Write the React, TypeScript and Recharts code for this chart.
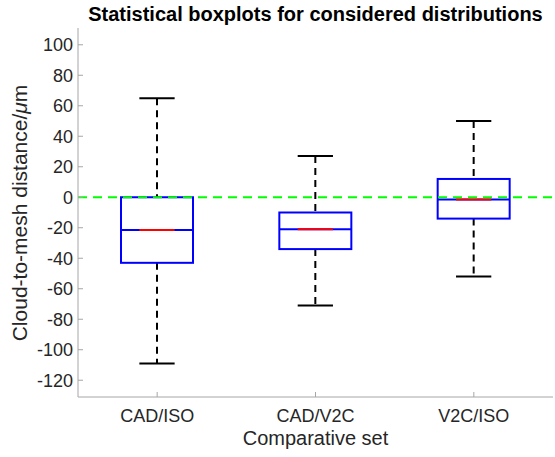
import React from "react";
import {
  ComposedChart,
  Bar,
  XAxis,
  YAxis,
  ReferenceLine,
} from "recharts";

const categories = ["CAD/ISO", "CAD/V2C", "V2C/ISO"];
const whiskerLow = [-109, -71, -52];
const q1 = [-43, -34, -14];
const median = [-21.5, -21, -1.5];
const q3 = [0, -10, 12];
const whiskerHigh = [65, 27, 50];
const yTicks = [-120, -100, -80, -60, -40, -20, 0, 20, 40, 60, 80, 100];

const data = categories.map((name, i) => ({
  name,
  range: [whiskerLow[i], whiskerHigh[i]],
  low: whiskerLow[i],
  q1: q1[i],
  median: median[i],
  q3: q3[i],
  high: whiskerHigh[i],
}));

const W = 555;
const H = 457;
const PLOT_LEFT = 78;
const PLOT_TOP = 28;
const PLOT_RIGHT = 553;
const PLOT_BOTTOM = 397;
const FONT = "'Liberation Sans', Arial, sans-serif";
const TEXT = "#262626";
const FRAME = "#a6a6a6";

const BoxShape = (props: any) => {
  const { x, y, width, height, payload } = props;
  const top = Math.min(y, y + height);
  const h = Math.abs(height);
  const k = h / (payload.high - payload.low);
  const toY = (v: number) => top + (payload.high - v) * k;
  const cx = x + width / 2;
  const cap = width * 0.49;
  const yQ3 = toY(payload.q3);
  const yQ1 = toY(payload.q1);
  const yMed = toY(payload.median);
  return (
    <g>
      <line x1={cx} x2={cx} y1={toY(payload.high)} y2={yQ3} stroke="#000" strokeWidth={2} strokeDasharray="7 5" />
      <line x1={cx} x2={cx} y1={yQ1} y2={toY(payload.low)} stroke="#000" strokeWidth={2} strokeDasharray="7 5" />
      <line x1={cx - cap / 2} x2={cx + cap / 2} y1={toY(payload.high)} y2={toY(payload.high)} stroke="#000" strokeWidth={2} />
      <line x1={cx - cap / 2} x2={cx + cap / 2} y1={toY(payload.low)} y2={toY(payload.low)} stroke="#000" strokeWidth={2} />
      <rect x={x} y={yQ3} width={width} height={yQ1 - yQ3} fill="none" stroke="#0000ff" strokeWidth={2} />
      <line x1={x} x2={x + width} y1={yMed} y2={yMed} stroke="#0000ff" strokeWidth={2} />
      <line x1={cx - cap / 2} x2={cx + cap / 2} y1={yMed} y2={yMed} stroke="#ff0000" strokeWidth={2} />
    </g>
  );
};

const LeftTick = (props: any) => {
  const { y, payload } = props;
  return (
    <g>
      <line x1={PLOT_LEFT} x2={PLOT_LEFT + 5} y1={y} y2={y} stroke={FRAME} />
      <text x={PLOT_LEFT - 5} y={y} dy="0.36em" textAnchor="end" fontSize={18} fill={TEXT} fontFamily={FONT}>
        {payload.value}
      </text>
    </g>
  );
};

const RightTick = (props: any) => {
  const { y } = props;
  return <line x1={PLOT_RIGHT} x2={PLOT_RIGHT - 5} y1={y} y2={y} stroke={FRAME} />;
};

const BottomTick = (props: any) => {
  const { x, payload } = props;
  return (
    <g>
      <line x1={x} x2={x} y1={PLOT_BOTTOM} y2={PLOT_BOTTOM - 5} stroke={FRAME} />
      <text x={x} y={PLOT_BOTTOM + 25} textAnchor="middle" fontSize={18} fill={TEXT} fontFamily={FONT}>
        {payload.value}
      </text>
    </g>
  );
};

const TopTick = (props: any) => {
  const { x } = props;
  return <line x1={x} x2={x} y1={PLOT_TOP} y2={PLOT_TOP + 5} stroke={FRAME} />;
};

export default function App() {
  return (
    <div style={{ position: "absolute", left: 0, top: 0, width: W, height: H, background: "#fff" }}>
      <ComposedChart
        width={W}
        height={H}
        data={data}
        margin={{ top: PLOT_TOP, right: W - PLOT_RIGHT, bottom: 0, left: 0 }}
      >
        <XAxis
          dataKey="name"
          height={H - PLOT_BOTTOM}
          interval={0}
          tickLine={false}
          axisLine={{ stroke: FRAME }}
          tick={<BottomTick />}
        />
        <XAxis
          xAxisId="top"
          dataKey="name"
          orientation="top"
          height={0}
          interval={0}
          tickLine={false}
          axisLine={{ stroke: FRAME }}
          tick={<TopTick />}
        />
        <YAxis
          type="number"
          domain={[-131, 111]}
          ticks={yTicks}
          allowDataOverflow
          width={PLOT_LEFT}
          tickLine={false}
          axisLine={{ stroke: FRAME }}
          tick={<LeftTick />}
        />
        <YAxis
          yAxisId="right"
          orientation="right"
          type="number"
          domain={[-131, 111]}
          ticks={yTicks}
          allowDataOverflow
          width={0}
          tickLine={false}
          axisLine={{ stroke: FRAME }}
          tick={<RightTick />}
        />
        <Bar dataKey="range" barSize={72} shape={<BoxShape />} isAnimationActive={false} />
        <ReferenceLine y={0} stroke="#00ff00" strokeWidth={2} strokeDasharray="9 6" />
      </ComposedChart>
      <div
        style={{
          position: "absolute",
          left: PLOT_LEFT,
          width: PLOT_RIGHT - PLOT_LEFT,
          top: 3,
          textAlign: "center",
          fontFamily: FONT,
          fontWeight: "bold",
          fontSize: 20,
          color: "#000",
          whiteSpace: "nowrap",
        }}
      >
        Statistical boxplots for considered distributions
      </div>
      <div
        style={{
          position: "absolute",
          left: PLOT_LEFT,
          width: PLOT_RIGHT - PLOT_LEFT,
          top: 427,
          textAlign: "center",
          fontFamily: FONT,
          fontSize: 20,
          color: TEXT,
          whiteSpace: "nowrap",
        }}
      >
        Comparative set
      </div>
      <div
        style={{
          position: "absolute",
          left: 20,
          top: (PLOT_TOP + PLOT_BOTTOM) / 2,
          transform: "translate(-50%, -50%) rotate(-90deg)",
          fontFamily: FONT,
          fontSize: 21,
          color: TEXT,
          whiteSpace: "nowrap",
        }}
      >
        Cloud-to-mesh distance/<i>μ</i>m
      </div>
    </div>
  );
}
